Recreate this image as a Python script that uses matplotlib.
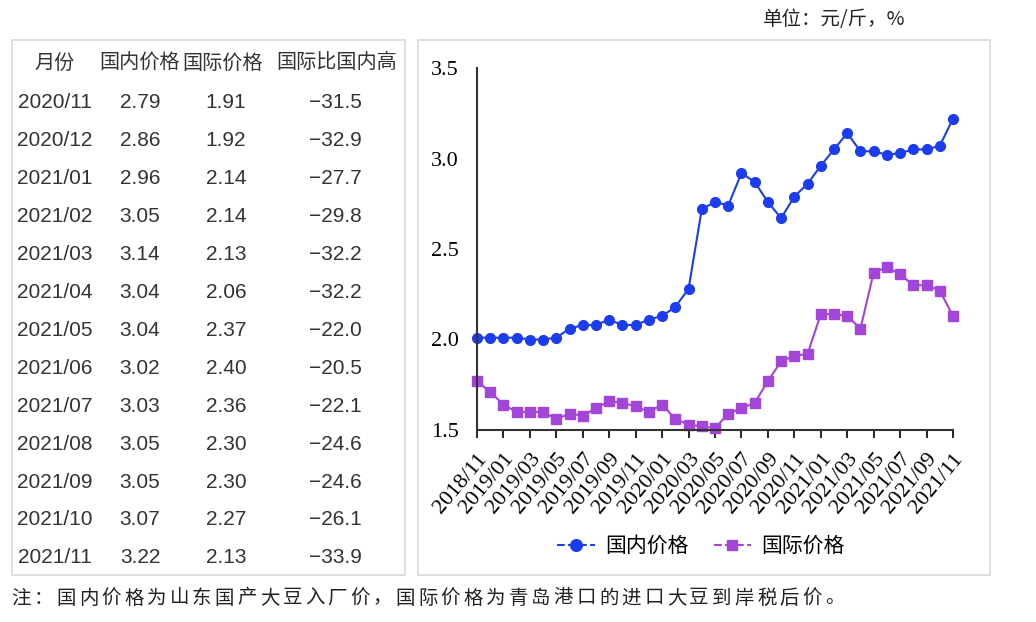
import numpy as np
import matplotlib.pyplot as plt
from matplotlib.patches import Rectangle

plt.rcParams['font.family'] = ['Noto Sans CJK SC', 'DejaVu Sans']

# monthly series 2018/11 - 2021/11
months = []
y, m = 2018, 11
for _ in range(37):
    months.append(f"{y}/{m:02d}")
    m += 1
    if m > 12:
        y, m = y + 1, 1

domestic = [2.01, 2.01, 2.01, 2.01, 2.00, 2.00, 2.01, 2.06, 2.08, 2.08, 2.11, 2.08,
            2.08, 2.11, 2.13, 2.18, 2.28, 2.72, 2.76, 2.74, 2.92, 2.87, 2.76, 2.67,
            2.79, 2.86, 2.96, 3.05, 3.14, 3.04, 3.04, 3.02, 3.03, 3.05, 3.05, 3.07, 3.22]
international = [1.77, 1.71, 1.64, 1.60, 1.60, 1.60, 1.56, 1.59, 1.58, 1.62, 1.66, 1.65,
                 1.63, 1.60, 1.64, 1.56, 1.53, 1.52, 1.51, 1.59, 1.62, 1.65, 1.77, 1.88,
                 1.91, 1.92, 2.14, 2.14, 2.13, 2.06, 2.37, 2.40, 2.36, 2.30, 2.30, 2.27, 2.13]

# table data
tbl_months = ["2020/11", "2020/12", "2021/01", "2021/02", "2021/03", "2021/04", "2021/05",
              "2021/06", "2021/07", "2021/08", "2021/09", "2021/10", "2021/11"]
tbl_dom = ["2.79", "2.86", "2.96", "3.05", "3.14", "3.04", "3.04", "3.02", "3.03", "3.05", "3.05", "3.07", "3.22"]
tbl_int = ["1.91", "1.92", "2.14", "2.14", "2.13", "2.06", "2.37", "2.40", "2.36", "2.30", "2.30", "2.27", "2.13"]
tbl_gap = ["\u221231.5", "\u221232.9", "\u221227.7", "\u221229.8", "\u221232.2", "\u221232.2", "\u221222.0",
           "\u221220.5", "\u221222.1", "\u221224.6", "\u221224.6", "\u221226.1", "\u221233.9"]
headers = ["月份", "国内价格", "国际价格", "国际比国内高"]
note = "注：国内价格为山东国产大豆入厂价，国际价格为青岛港口的进口大豆到岸税后价。"

W, H = 1036, 622
fig = plt.figure(figsize=(W / 100, H / 100), dpi=100)

def fx(px):
    return px / W

def fy(py):
    return 1 - py / H

# frames
fig.patches.append(Rectangle((fx(12), fy(575)), fx(393), (535) / H, transform=fig.transFigure,
                             fill=False, edgecolor='#d9d9d9', linewidth=1.2))
fig.patches.append(Rectangle((fx(418), fy(575)), fx(572), (535) / H, transform=fig.transFigure,
                             fill=False, edgecolor='#d9d9d9', linewidth=1.2))

# table
head_x = [55, 140, 223, 337]
col_x = [55, 140, 226, 335]
for cx, h in zip(head_x, headers):
    fig.text(fx(cx), fy(63), h, ha='center', va='center', fontsize=14.5, color='#333333')
for i in range(len(tbl_months)):
    ry = fy(103 + i * 37.9)
    for cx, v in zip(col_x, [tbl_months[i], tbl_dom[i], tbl_int[i], tbl_gap[i]]):
        fig.text(fx(cx), ry, v, ha='center', va='center', fontsize=15, color='#333333',
                 family=['Liberation Sans', 'DejaVu Sans'])

# unit and footnote
fig.text(fx(834), fy(19), "单位：元/斤，%", ha='center', va='center', fontsize=14, color='#222222')
for k, ch in enumerate(note):
    fig.text(fx(21 + k * 22.6), fy(598), ch, ha='center', va='center', fontsize=14, color='#222222')

# line chart
ax = fig.add_axes([fx(477), fy(430), fx(953 - 477), (430 - 68) / H])
x = np.arange(len(months))
blue = '#1c3cf0'
purple = '#a345d9'
ax.plot(x, domestic, color=blue, marker='o', markersize=7, linewidth=1.5, label='国内价格', clip_on=False)
ax.plot(x, international, color=purple, marker='s', markersize=6.5, linewidth=1.5, label='国际价格', clip_on=False)
ax.set_xlim(0, 36)
ax.set_ylim(1.5, 3.5)
ax.set_yticks([1.5, 2.0, 2.5, 3.0, 3.5])
ax.set_yticklabels(['1.5', '2.0', '2.5', '3.0', '3.5'], family='Liberation Serif', fontsize=16)
ax.tick_params(axis='y', length=0, pad=13)
ax.set_xticks(x[::2])
ax.set_xticklabels(months[::2], rotation=50, ha='right', va='top', rotation_mode='anchor',
                   family='Liberation Serif', fontsize=16)
ax.tick_params(axis='x', length=6, width=1.2, direction='out', pad=8)
for s in ['top', 'right']:
    ax.spines[s].set_visible(False)
for s in ['left', 'bottom']:
    ax.spines[s].set_linewidth(1.5)
    ax.spines[s].set_color('#333333')

leg = ax.legend(loc='center', bbox_to_anchor=((701 - 477) / 476, (430 - 546) / (430 - 68)), ncol=2,
                frameon=False, fontsize=15, handlelength=1.8, columnspacing=1.2, handletextpad=0.5,
                markerscale=1.2)
for line in leg.get_lines():
    line.set_linestyle('--')

fig.savefig('out.png', dpi=100)
